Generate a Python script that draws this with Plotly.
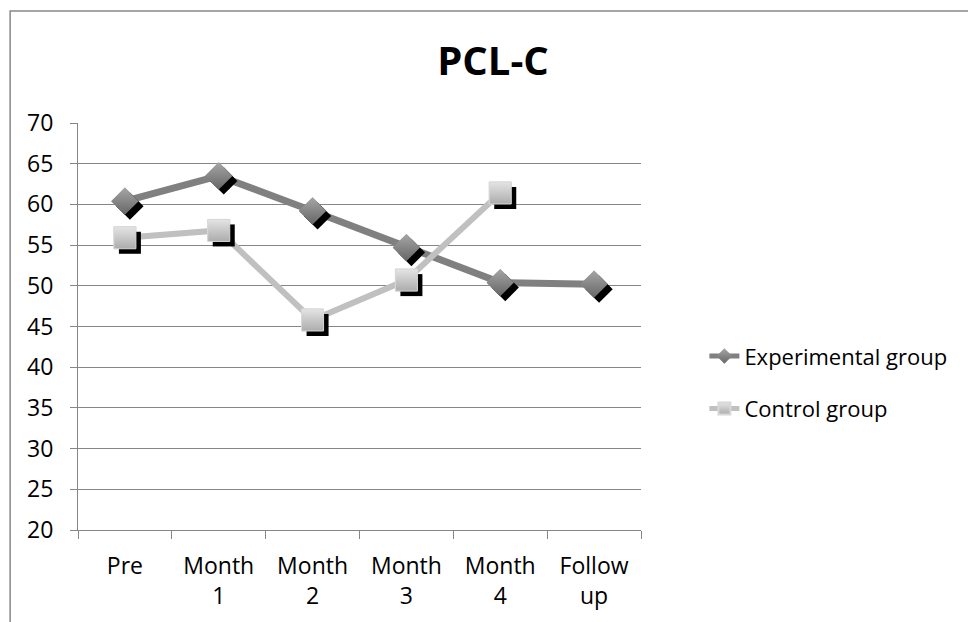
import plotly.graph_objects as go

categories = ["Pre", "Month<br>1", "Month<br>2", "Month<br>3", "Month<br>4", "Follow<br>up"]
experimental = [60.4, 63.5, 59.2, 54.7, 50.4, 50.2]
control = [55.9, 56.8, 45.8, 50.7, 61.4, None]
series_names = ["Experimental group", "Control group"]
y_ticks = list(range(20, 75, 5))

FONT = "Open Sans"
AX = "#868686"

# pixel geometry of plot area
L, R, T, B = 77.5, 641.5, 122.7, 530.0
W, H = 968, 622
px_x = (R - L) / 6.0
px_y = (B - T) / 50.0
sx = 5 / px_x
sy = 5 / px_y

fig = go.Figure()

exp_marker = dict(symbol="diamond", size=21, color="#a6a6a6",
                  gradient=dict(type="vertical", color="#666666"),
                  line=dict(width=0))
ctl_marker = dict(symbol="square", size=22, color="#e4e4e4",
                  gradient=dict(type="vertical", color="#acacac"),
                  line=dict(width=1, color="#d8d8d8"))

fig.add_trace(go.Scatter(x=categories, y=experimental, name=series_names[0],
                         mode="lines+markers", line=dict(color="#808080", width=7),
                         marker=exp_marker, legendgroup="a", connectgaps=False))
fig.add_trace(go.Scatter(x=categories, y=control, name=series_names[1],
                         mode="lines+markers", line=dict(color="#c0c0c0", width=6),
                         marker=ctl_marker, legendgroup="b", connectgaps=False))

for vals, sym, sz in [(experimental, "diamond", 21), (control, "square", 22)]:
    fig.add_trace(go.Scatter(x=categories, y=vals, mode="markers", xaxis="x2", yaxis="y2",
                             marker=dict(symbol=sym, size=sz, color="#000000", line=dict(width=0)),
                             showlegend=False, hoverinfo="skip"))

fig.add_trace(go.Scatter(x=categories, y=experimental, mode="markers", xaxis="x3", yaxis="y3",
                         marker=exp_marker, showlegend=False))
fig.add_trace(go.Scatter(x=categories, y=control, mode="markers", xaxis="x3", yaxis="y3",
                         marker=ctl_marker, showlegend=False))

fig.update_layout(
    width=W, height=H,
    margin=dict(l=L, r=W - R, t=T, b=H - B),
    paper_bgcolor="white", plot_bgcolor="white",
    font=dict(family=FONT, size=22, color="#000000"),
    title=dict(text="<b>PCL-C</b>", font=dict(family=FONT, size=40, color="#000000"),
               x=493 / W, xref="container", xanchor="center",
               y=1 - 61 / H, yref="container", yanchor="middle"),
    xaxis=dict(type="category", categoryorder="array", categoryarray=categories,
               range=[-0.5, 5.5], showgrid=False, showline=True, linecolor=AX, linewidth=1,
               ticks="outside", tickson="boundaries", ticklen=8, tickcolor=AX,
               ticklabelstandoff=15, zeroline=False, tickfont=dict(size=23)),
    yaxis=dict(range=[20, 70], tickvals=y_ticks, showgrid=True, gridcolor=AX, gridwidth=1,
               showline=True, linecolor=AX, linewidth=1, ticks="outside", ticklen=7,
               tickcolor=AX, ticklabelstandoff=12, zeroline=False, tickfont=dict(size=23)),
    xaxis2=dict(type="category", categoryorder="array", categoryarray=categories,
                overlaying="x", range=[-0.5 - sx, 5.5 - sx], visible=False),
    yaxis2=dict(overlaying="y", range=[20 + sy, 70 + sy], visible=False),
    xaxis3=dict(type="category", categoryorder="array", categoryarray=categories,
                overlaying="x", range=[-0.5, 5.5], visible=False),
    yaxis3=dict(overlaying="y", range=[20, 70], visible=False),
    legend=dict(x=(705 - L) / (R - L), xanchor="left", y=(B - 335) / (B - T), yanchor="top",
                font=dict(family=FONT, size=22, color="#000000"),
                traceorder="grouped", tracegroupgap=21, bgcolor="rgba(0,0,0,0)",
                itemsizing="constant"),
    shapes=[dict(type="rect", xref="paper", yref="paper",
                 x0=(9.5 - L) / (R - L), x1=(W + 20 - L) / (R - L),
                 y0=(B - (H + 20)) / (B - T), y1=(B - 10.5) / (B - T),
                 line=dict(color="#888888", width=1.5), fillcolor="rgba(0,0,0,0)", layer="below")],
    showlegend=True,
)

fig.write_html("out.html", config={"displayModeBar": False},
               post_script="document.body.style.margin='0';")
